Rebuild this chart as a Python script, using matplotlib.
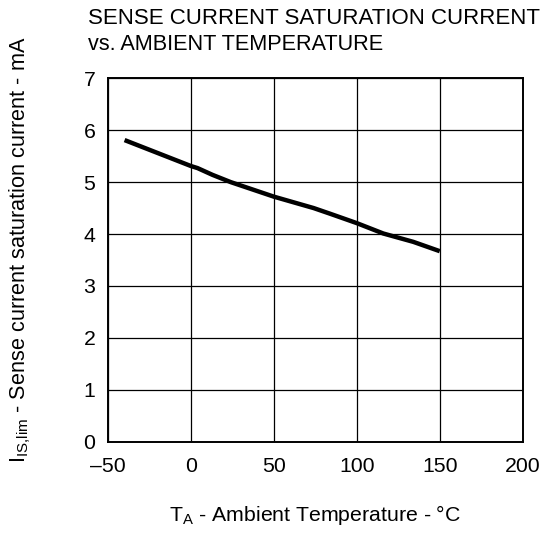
import matplotlib
matplotlib.use("Agg")
import matplotlib.pyplot as plt

plt.rcParams['font.family'] = ['Liberation Sans', 'DejaVu Sans']

temperature = [-40, 0, 4, 13, 24, 50, 74, 84, 100, 116, 134, 150]
current = [5.81, 5.31, 5.27, 5.14, 5.0, 4.72, 4.50, 4.39, 4.21, 4.01, 3.85, 3.67]
x_ticks = [-50, 0, 50, 100, 150, 200]
x_tick_labels = ['\u201350', '0', '50', '100', '150', '200']
y_ticks = [0, 1, 2, 3, 4, 5, 6, 7]

fig = plt.figure(figsize=(5.52, 5.33), dpi=100)
ax = fig.add_axes([108/552, 1-441.7/533, (522.7-108)/552, (441.7-78.3)/533])

ax.plot(temperature, current, color='black', lw=3.2, solid_capstyle='butt')
ax.set_xlim(-50, 200)
ax.set_ylim(0, 7)
ax.set_xticks(x_ticks)
ax.set_xticklabels(x_tick_labels)
ax.set_yticks(y_ticks)
ax.tick_params(length=0, labelsize=15.3, pad=9)
ax.tick_params(axis='x', pad=11)
ax.grid(True, color='black', lw=0.9)
ax.set_axisbelow(True)
for s in ax.spines.values():
    s.set_linewidth(1.4)

fig.text(0.5*(108+522.7)/552, 1-515/533, r'T$_{\mathregular{A}}$ - Ambient Temperature - °C',
         ha='center', va='center', fontsize=15.3)
fig.text(20/552, 1-250/533, r'I$_{\mathregular{IS{,}lim}}$ - Sense current saturation current - mA',
         ha='center', va='center', rotation=90, fontsize=15.6)
fig.text(88/552, 1-18.5/533, 'SENSE CURRENT SATURATION CURRENT', ha='left', va='center', fontsize=16.0)
fig.text(88/552, 1-45/533, 'vs. AMBIENT TEMPERATURE', ha='left', va='center', fontsize=15.6)

fig.savefig('out.png', dpi=100)
